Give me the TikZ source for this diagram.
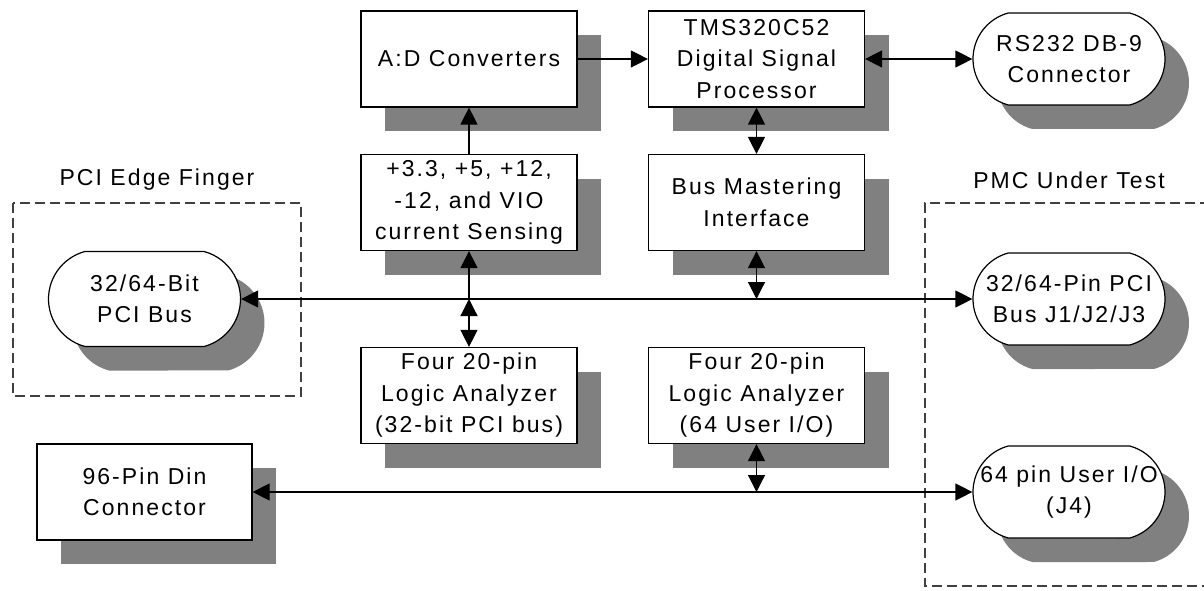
\documentclass[tikz,border=0pt]{standalone}
\usepackage{fontspec}
\newfontfamily\dfont{Liberation Sans}[LetterSpace=9]
\newcommand\dtext{\dfont\fontsize{23}{31.5}\selectfont}
\usetikzlibrary{shapes.misc,shadows,arrows.meta}
\definecolor{shadowgray}{HTML}{808080}
\tikzset{
  base/.style={draw=black, line width=1.2pt, fill=white, font=\dtext, align=center, inner sep=0pt,
    drop shadow={shadow xshift=24pt, shadow yshift=-24pt, fill=shadowgray, draw=none, opacity=1}},
  blk/.style={base, rectangle, minimum width=216pt, minimum height=96pt},
  oval/.style={base, rounded rectangle, rounded rectangle arc length=150, minimum width=192pt, minimum height=92pt},
  ovaltext/.style={font=\dtext, align=center, inner sep=0pt},
  conn/.style={line width=1.2pt, draw=black},
  group/.style={draw=black!75, line width=1.3pt, dash pattern=on 10pt off 5pt},
  grouplabel/.style={font=\dtext, inner sep=0pt}
}
\begin{document}
\begin{tikzpicture}[x=1pt,y=-1pt,>={Triangle[length=17pt,width=17pt]}]
\useasboundingbox (0,0) rectangle (1204,591);
% groups
\draw[group] (13,203) rectangle (301,396);
\draw[group] (1210,203) -- (925,203) -- (925,586) -- (1210,586);
\node[grouplabel] (pcilabel) at (157,180) {PCI Edge Finger};
\node[grouplabel] (pmclabel) at (1069,180) {PMC Under Test};
% blocks
\node[blk] (ad) at (469,59) {A:D Converters};
\node[blk] (dsp) at (756.5,59) {TMS320C52\\Digital Signal\\Processor};
\node[blk] (sense) at (469,202.5) {+3.3, +5, +12,\\-12, and VIO\\current Sensing};
\node[blk] (bm) at (756.5,202.5) {Bus Mastering\\Interface};
\node[blk] (la1) at (469,395.5) {Four 20-pin\\Logic Analyzer\\(32-bit PCI bus)};
\node[blk] (la2) at (756.5,395.5) {Four 20-pin\\Logic Analyzer\\(64 User I/O)};
\node[blk, minimum width=215pt] (din) at (144.5,492) {96-Pin Din\\Connector};
% ovals
\node[oval, minimum height=95pt, label={[ovaltext]center:32/64-Bit\\PCI Bus}] (pci) at (144.5,299) {};
\node[oval, label={[ovaltext]center:RS232 DB-9\\Connector}] (rs) at (1069,59) {};
\node[oval, label={[ovaltext]center:32/64-Pin PCI\\Bus J1/J2/J3}] (pmc) at (1069,299) {};
\node[oval, label={[ovaltext]center:64 pin User I/O\\(J4)}] (io) at (1069,492) {};
% junctions
\coordinate (j1) at (sense.south |- pci.east);
\coordinate (j2) at (bm.south |- pci.east);
\coordinate (j3) at (la2.south |- din.east);
% connectors
\draw[conn, ->] (ad.east) -- (dsp.west);
\draw[conn, <->] (dsp.east) -- (rs.west);
\draw[conn, <->] (dsp.south) -- (bm.north);
\draw[conn, ->] (sense.north) -- (ad.south);
\draw[conn, <->] (pci.east) -- (pmc.west);
\draw[conn, ->] (j1) -- (sense.south);
\draw[conn, <->] (j1) -- (la1.north);
\draw[conn, <->] (bm.south) -- (j2);
\draw[conn, <->] (din.east) -- (io.west);
\draw[conn, <->] (la2.south) -- (j3);
\end{tikzpicture}
\end{document}
